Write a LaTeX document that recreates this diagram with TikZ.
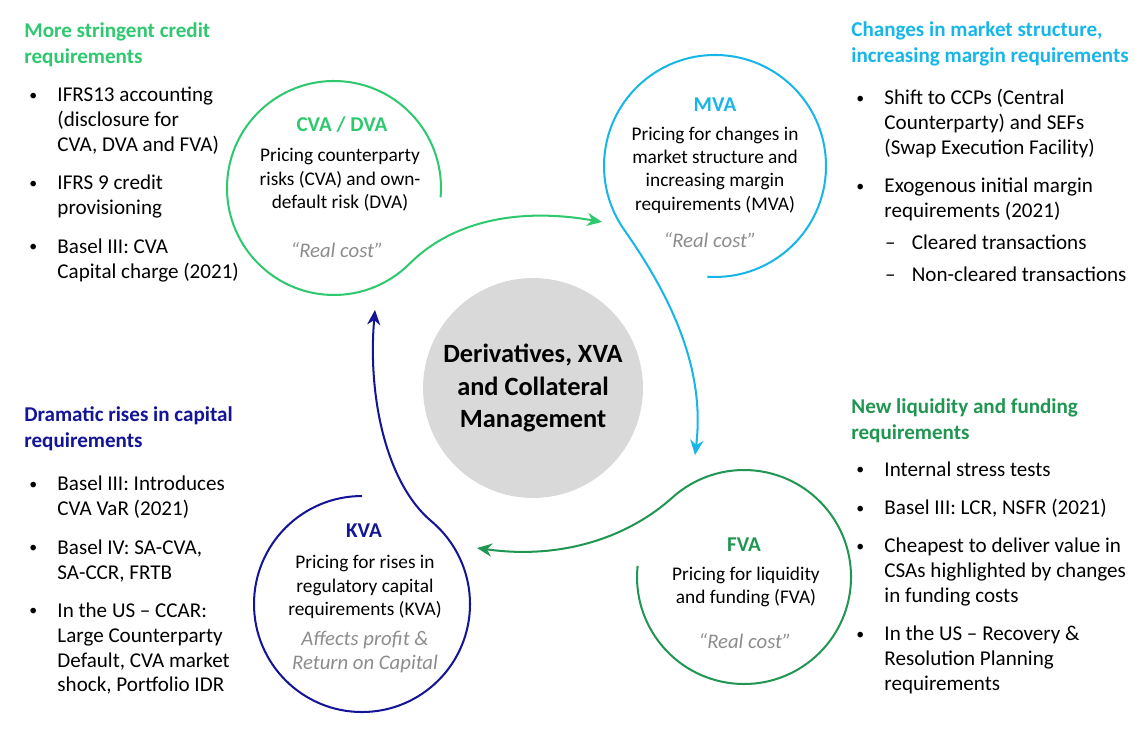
\documentclass[tikz,border=0pt]{standalone}
\usepackage{fontspec}
\setmainfont{Carlito}
\usepackage{xcolor}
\usetikzlibrary{arrows.meta, positioning}

\definecolor{cvagreen}{RGB}{46,200,110}
\definecolor{mvablue}{RGB}{24,182,232}
\definecolor{fvagreen}{RGB}{32,150,82}
\definecolor{kvanavy}{RGB}{20,20,150}
\definecolor{notegray}{RGB}{140,140,140}
\definecolor{hubgray}{RGB}{217,217,217}

\newcommand{\bul}{\raisebox{0.8pt}{\fontsize{9}{9}\selectfont\textbullet}}
\newcommand{\subdash}{\makebox[15.6pt][l]{\hspace{0.4pt}–}}

\begin{document}
\begin{tikzpicture}[
    x=0.02cm, y=0.02cm,
    ring/.style={circle, minimum size=#1, inner sep=0pt, outer sep=0pt},
    loopline/.style={line width=1.15pt, draw=#1, -{Stealth[length=8.5pt, width=7.5pt]}},
    hub/.style={circle, fill=hubgray, minimum size=4.4cm, inner sep=0pt, align=center, font=\fontsize{15}{18.7}\selectfont\bfseries},
    ringtitle/.style={inner sep=0pt, text=#1, font=\fontsize{12}{14}\selectfont\bfseries},
    ringbody/.style={inner sep=0pt, align=center, font=\fontsize{11}{13.3}\selectfont},
    ringnote/.style={inner sep=0pt, align=center, text=notegray, font=\fontsize{11.8}{14}\selectfont\itshape},
    sidetitle/.style={anchor=west, inner sep=0pt, align=left, text=#1, font=\fontsize{12}{14.7}\selectfont\bfseries},
    sidelist/.style={anchor=west, inner sep=0pt, font=\fontsize{12}{14.2}\selectfont}
]
\useasboundingbox (0,0) rectangle (1148,-732);

% centre
\node[hub] (hub) at (533,-388) {Derivatives, XVA\\and Collateral\\Management};

% the four rings
\node[ring=4.28cm] (cva) at (334,-188) {};
\node[ring=4.44cm] (mva) at (715,-166) {};
\node[ring=4.28cm] (fva) at (744,-577) {};
\node[ring=4.32cm] (kva) at (362,-604) {};

\coordinate (cvatip) at (602,-222);
\coordinate (mvatip) at (695,-455);
\coordinate (fvatip) at (477,-548);
\coordinate (kvatip) at (375,-310);

\draw[loopline=cvagreen] (cva.-5) arc[start angle=-5, end angle=315, radius=107]
    .. controls +(45:60) and +(170:85) .. (cvatip);
\draw[loopline=mvablue] (mva.-94) arc[start angle=-94, end angle=215, radius=111]
    .. controls +(305:85) and +(83:85) .. (mvatip);
\draw[loopline=fvagreen] (fva.174) arc[start angle=174, end angle=492, radius=107]
    .. controls +(222:60) and +(352:85) .. (fvatip);
\draw[loopline=kvanavy] (kva.90) arc[start angle=90, end angle=410, radius=108]
    .. controls +(140:60) and +(265:85) .. (kvatip);

% ring texts
\node[ringtitle=cvagreen] (cvatitle) at (342,-125) {CVA / DVA};
\node[ringbody] (cvabody) at (340,-180) {Pricing counterparty\\risks (CVA) and own-\\default risk (DVA)};
\node[ringnote] (cvanote) at (337,-250) {“Real cost”};

\node[ringtitle=mvablue] (mvatitle) at (715,-105) {MVA};
\node[ringbody] (mvabody) at (715,-170) {Pricing for changes in\\market structure and\\increasing margin\\requirements (MVA)};
\node[ringnote] (mvanote) at (710,-240) {“Real cost”};

\node[ringtitle=fvagreen] (fvatitle) at (744,-545) {FVA};
\node[ringbody] (fvabody) at (746,-587) {Pricing for liquidity\\and funding (FVA)};
\node[ringnote] (fvanote) at (745,-641) {“Real cost”};

\node[ringtitle=kvanavy] (kvatitle) at (364,-531) {KVA};
\node[ringbody] (kvabody) at (365,-587) {Pricing for rises in\\regulatory capital\\requirements (KVA)};
\node[ringnote] (kvanote) at (365,-652) {Affects profit \&\\Return on Capital};

% side panels
\node[sidetitle=cvagreen] (credittitle) at (24,-45) {More stringent credit\\requirements};
\node[sidelist] (creditlist) at (29,-185) {\begin{tabular}{@{}p{16pt}@{}l@{}}
\bul & IFRS13 accounting\\
 & (disclosure for\\
 & CVA, DVA and FVA)\\[7.5pt]
\bul & IFRS 9 credit\\
 & provisioning\\[7.5pt]
\bul & Basel III: CVA\\
 & Capital charge (2021)
\end{tabular}};

\node[sidetitle=mvablue] (markettitle) at (851,-43.5) {Changes in market structure,\\increasing margin requirements};
\node[sidelist] (marketlist) at (856,-188) {\begin{tabular}{@{}p{16pt}@{}l@{}}
\bul & Shift to CCPs (Central\\
 & Counterparty) and SEFs\\
 & (Swap Execution Facility)\\[7.5pt]
\bul & Exogenous initial margin\\
 & requirements (2021)\\[4pt]
 & \subdash Cleared transactions\\[3.5pt]
 & \subdash Non-cleared transactions
\end{tabular}};

\node[sidetitle=kvanavy] (capitaltitle) at (24,-429) {Dramatic rises in capital\\requirements};
\node[sidelist] (capitallist) at (29,-586.5) {\begin{tabular}{@{}p{16pt}@{}l@{}}
\bul & Basel III: Introduces\\
 & CVA VaR (2021)\\[7.5pt]
\bul & Basel IV: SA-CVA,\\
 & SA-CCR, FRTB\\[7.5pt]
\bul & In the US – CCAR:\\
 & Large Counterparty\\
 & Default, CVA market\\
 & shock, Portfolio IDR
\end{tabular}};

\node[sidetitle=fvagreen] (fundingtitle) at (851,-421) {New liquidity and funding\\requirements};
\node[sidelist] (fundinglist) at (856,-578.5) {\begin{tabular}{@{}p{16pt}@{}l@{}}
\bul & Internal stress tests\\[7.5pt]
\bul & Basel III: LCR, NSFR (2021)\\[7.5pt]
\bul & Cheapest to deliver value in\\
 & CSAs highlighted by changes\\
 & in funding costs\\[7.5pt]
\bul & In the US – Recovery \&\\
 & Resolution Planning\\
 & requirements
\end{tabular}};

\end{tikzpicture}
\end{document}
